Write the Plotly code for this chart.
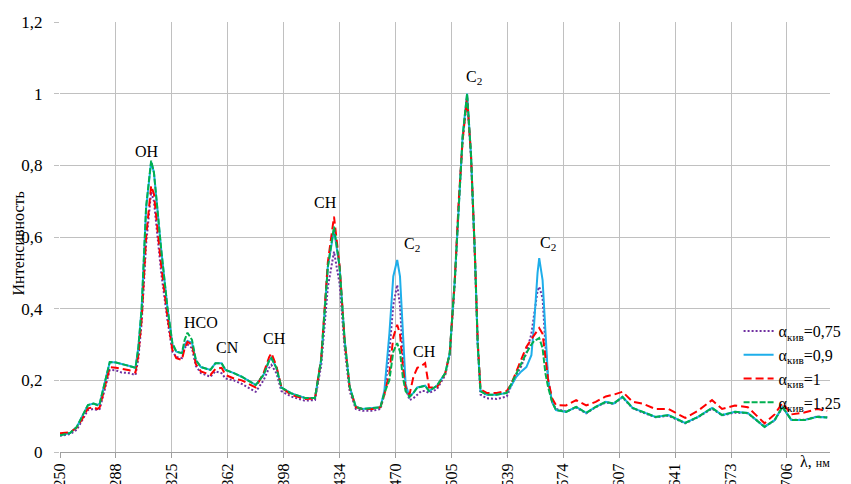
import plotly.graph_objects as go

# channel positions (tick label every 10 channels)
x = [0.0, 1.8, 3.0, 3.9, 5.0, 6.0, 6.7, 7.1, 8.0, 8.9, 10.0, 11.0, 12.4, 13.5, 14.0, 14.6, 15.4, 16.3, 16.8, 18.1,
     19.2, 20.1, 20.8, 21.8, 22.3, 22.8, 23.6, 24.3, 25.2, 26.9, 27.8, 28.9, 29.6, 31.1, 32.5, 35.0, 36.4, 37.4, 37.8, 38.7,
     39.6, 41.3, 43.8, 45.6, 46.7, 47.9, 49.0, 50.0, 50.9, 51.8, 52.9, 54.1, 55.9, 57.3, 58.0, 58.9, 59.6, 60.3, 60.8, 61.3,
     61.8, 62.5, 63.2, 63.9, 64.6, 65.3, 66.0, 67.4, 68.9, 69.7, 70.6, 71.3, 72.0, 72.8, 73.5, 74.2, 74.7, 75.2, 76.3, 78.1,
     79.9, 80.7, 81.6, 82.5, 83.4, 84.3, 84.8, 85.4, 85.7, 86.3, 86.8, 87.3, 88.0, 88.7, 90.5, 92.3, 94.1, 95.8, 97.6, 99.0,
     100.6, 102.4, 104.2, 106.5, 108.8, 111.8, 114.1, 116.6, 118.4, 120.7, 123.0, 126.0, 127.8, 129.2, 130.8, 133.1, 135.4, 137.2]

a075 = [0.045, 0.05, 0.062, 0.085, 0.117, 0.12, 0.117, 0.12, 0.175, 0.229, 0.228, 0.222, 0.22, 0.215, 0.26, 0.36, 0.58, 0.726, 0.70, 0.50,
        0.37, 0.28, 0.265, 0.262, 0.29, 0.30, 0.29, 0.24, 0.22, 0.21, 0.225, 0.22, 0.205, 0.20, 0.19, 0.168, 0.20, 0.235, 0.243, 0.22,
        0.17, 0.155, 0.143, 0.145, 0.24, 0.46, 0.559, 0.47, 0.29, 0.17, 0.12, 0.115, 0.115, 0.12, 0.16, 0.28, 0.41, 0.466, 0.41, 0.27,
        0.18, 0.145, 0.15, 0.16, 0.17, 0.17, 0.165, 0.175, 0.215, 0.27, 0.47, 0.69, 0.87, 0.99, 0.82, 0.54, 0.30, 0.16, 0.15, 0.148,
        0.155, 0.185, 0.215, 0.24, 0.276, 0.33, 0.39, 0.45, 0.461, 0.43, 0.30, 0.20, 0.14, 0.12, 0.113, 0.124, 0.108, 0.125, 0.138, 0.134,
        0.152, 0.122, 0.11, 0.097, 0.101, 0.08, 0.097, 0.121, 0.102, 0.11, 0.108, 0.071, 0.088, 0.124, 0.09, 0.09, 0.099, 0.097]

a09 = [0.047, 0.053, 0.07, 0.098, 0.131, 0.135, 0.131, 0.135, 0.19, 0.251, 0.25, 0.245, 0.24, 0.235, 0.29, 0.40, 0.68, 0.81, 0.78, 0.565,
       0.405, 0.30, 0.28, 0.276, 0.30, 0.31, 0.305, 0.255, 0.237, 0.229, 0.248, 0.248, 0.229, 0.22, 0.21, 0.187, 0.215, 0.255, 0.262, 0.235,
       0.18, 0.164, 0.151, 0.151, 0.257, 0.517, 0.62, 0.517, 0.313, 0.182, 0.126, 0.12, 0.122, 0.125, 0.17, 0.33, 0.49, 0.536, 0.49, 0.32,
       0.19, 0.154, 0.165, 0.18, 0.182, 0.185, 0.17, 0.185, 0.22, 0.276, 0.48, 0.70, 0.88, 1.0, 0.83, 0.55, 0.30, 0.17, 0.16, 0.16,
       0.165, 0.185, 0.21, 0.225, 0.237, 0.27, 0.36, 0.50, 0.541, 0.48, 0.32, 0.20, 0.14, 0.117, 0.112, 0.126, 0.109, 0.126, 0.14, 0.135,
       0.154, 0.123, 0.112, 0.098, 0.103, 0.081, 0.098, 0.123, 0.103, 0.112, 0.109, 0.07, 0.089, 0.126, 0.089, 0.089, 0.098, 0.096]

a1 = [0.052, 0.055, 0.068, 0.09, 0.122, 0.125, 0.12, 0.125, 0.18, 0.237, 0.235, 0.232, 0.228, 0.222, 0.27, 0.37, 0.60, 0.743, 0.72, 0.52,
      0.38, 0.285, 0.262, 0.257, 0.29, 0.307, 0.30, 0.245, 0.225, 0.215, 0.232, 0.235, 0.215, 0.205, 0.20, 0.18, 0.22, 0.265, 0.276, 0.24,
      0.18, 0.16, 0.148, 0.15, 0.26, 0.53, 0.657, 0.52, 0.31, 0.18, 0.125, 0.12, 0.12, 0.125, 0.16, 0.22, 0.32, 0.355, 0.33, 0.24,
      0.18, 0.16, 0.21, 0.235, 0.24, 0.248, 0.18, 0.18, 0.22, 0.276, 0.48, 0.70, 0.87, 0.99, 0.83, 0.55, 0.31, 0.175, 0.165, 0.165,
      0.17, 0.19, 0.225, 0.26, 0.293, 0.315, 0.325, 0.34, 0.346, 0.33, 0.27, 0.20, 0.15, 0.131, 0.13, 0.145, 0.13, 0.14, 0.155, 0.16,
      0.168, 0.14, 0.135, 0.12, 0.12, 0.095, 0.115, 0.145, 0.12, 0.13, 0.125, 0.08, 0.105, 0.137, 0.105, 0.11, 0.12, 0.115]

a125 = [0.047, 0.053, 0.07, 0.098, 0.131, 0.135, 0.131, 0.135, 0.19, 0.251, 0.25, 0.245, 0.24, 0.235, 0.29, 0.40, 0.685, 0.813, 0.78, 0.565,
        0.405, 0.304, 0.28, 0.276, 0.313, 0.333, 0.313, 0.257, 0.237, 0.229, 0.248, 0.248, 0.229, 0.22, 0.21, 0.187, 0.215, 0.255, 0.262, 0.235,
        0.18, 0.164, 0.151, 0.151, 0.257, 0.517, 0.629, 0.517, 0.313, 0.182, 0.126, 0.12, 0.122, 0.125, 0.164, 0.20, 0.28, 0.304, 0.28, 0.21,
        0.17, 0.154, 0.165, 0.18, 0.182, 0.185, 0.17, 0.185, 0.22, 0.276, 0.48, 0.70, 0.88, 1.0, 0.83, 0.55, 0.30, 0.17, 0.16, 0.16,
        0.165, 0.19, 0.22, 0.25, 0.276, 0.30, 0.31, 0.315, 0.318, 0.29, 0.22, 0.18, 0.14, 0.117, 0.112, 0.126, 0.109, 0.126, 0.14, 0.135,
        0.154, 0.123, 0.112, 0.098, 0.103, 0.081, 0.098, 0.123, 0.103, 0.112, 0.109, 0.07, 0.089, 0.126, 0.089, 0.089, 0.098, 0.096]

tick_pos = [0, 10, 20, 30, 40, 50, 60, 70, 80, 90, 100, 110, 120, 130]
tick_labels = ["250", "288", "325", "362", "398", "434", "470", "505", "539", "574", "607", "641", "673", "706"]

peak_labels = ["OH", "HCO", "CN", "CH", "CH", "C<sub>2</sub>", "CH", "C<sub>2</sub>", "C<sub>2</sub>"]
peak_x = [15.6, 25.3, 30.0, 38.4, 47.4, 63.0, 65.2, 74.1, 87.3]
peak_y = [0.84, 0.362, 0.292, 0.316, 0.697, 0.578, 0.28, 1.044, 0.582]

FONT = "Liberation Serif, Times New Roman, serif"

fig = go.Figure()
fig.add_trace(go.Scatter(x=x, y=a075, mode="lines", name="α<sub>кив</sub>=0,75",
                         line=dict(color="#7030A0", width=2, dash="2px,2px")))
fig.add_trace(go.Scatter(x=x, y=a09, mode="lines", name="α<sub>кив</sub>=0,9",
                         line=dict(color="#1EAEEA", width=2)))
fig.add_trace(go.Scatter(x=x, y=a1, mode="lines", name="α<sub>кив</sub>=1",
                         line=dict(color="#FF0000", width=2, dash="8px,4px")))
fig.add_trace(go.Scatter(x=x, y=a125, mode="lines", name="α<sub>кив</sub>=1,25",
                         line=dict(color="#00B050", width=2, dash="6px,2px")))

for t, px, py in zip(peak_labels, peak_x, peak_y):
    fig.add_annotation(x=px, y=py, text=t, showarrow=False, xref="x", yref="y",
                       font=dict(family=FONT, size=16, color="#000"))

fig.add_annotation(x=(803 - 60) / 775, y=-0.022, xref="paper", yref="paper", xanchor="left", yanchor="middle",
                   text="λ, <span style='font-size:12px'>нм</span>", showarrow=False,
                   font=dict(family=FONT, size=16, color="#000"))
fig.add_annotation(x=-0.054, y=0.486, xref="paper", yref="paper", xanchor="center", yanchor="middle",
                   text="Интенсивность", textangle=-90, showarrow=False,
                   font=dict(family=FONT, size=16, color="#000"))

# the page body has an 8px margin, so the figure margins are reduced by 8px on the left/top
fig.update_layout(
    width=851, height=484,
    margin=dict(l=52, r=24, t=14, b=40),
    paper_bgcolor="white", plot_bgcolor="white",
    separators=", ",
    font=dict(family=FONT, size=16, color="#000"),
    showlegend=True,
    legend=dict(x=(743 - 60) / 775, y=(452 - 314) / 430, xanchor="left", yanchor="top",
                bgcolor="rgba(255,255,255,0)", font=dict(family=FONT, size=16, color="#000"),
                itemwidth=30, tracegroupgap=0),
    xaxis=dict(range=[0, 137.7], tickvals=tick_pos, ticktext=tick_labels, tickangle=-90,
               showgrid=True, gridcolor="#C0C0C0", gridwidth=1,
               ticks="outside", ticklen=5, tickcolor="#A0A0A0",
               showline=True, linecolor="#A0A0A0", linewidth=1,
               zeroline=False, automargin=False, ticklabelstandoff=-1,
               tickfont=dict(family=FONT, size=16, color="#000")),
    yaxis=dict(range=[0, 1.2], tickvals=[0, 0.2, 0.4, 0.6, 0.8, 1.0, 1.2],
               ticktext=["0", "0,2", "0,4", "0,6", "0,8", "1", "1,2"],
               showgrid=True, gridcolor="#C0C0C0", gridwidth=1,
               ticks="outside", ticklen=5, tickcolor="#C0C0C0",
               showline=False, zeroline=False, automargin=False, ticklabelstandoff=8,
               tickfont=dict(family=FONT, size=17, color="#000")),
)

fig.write_html("out.html")
